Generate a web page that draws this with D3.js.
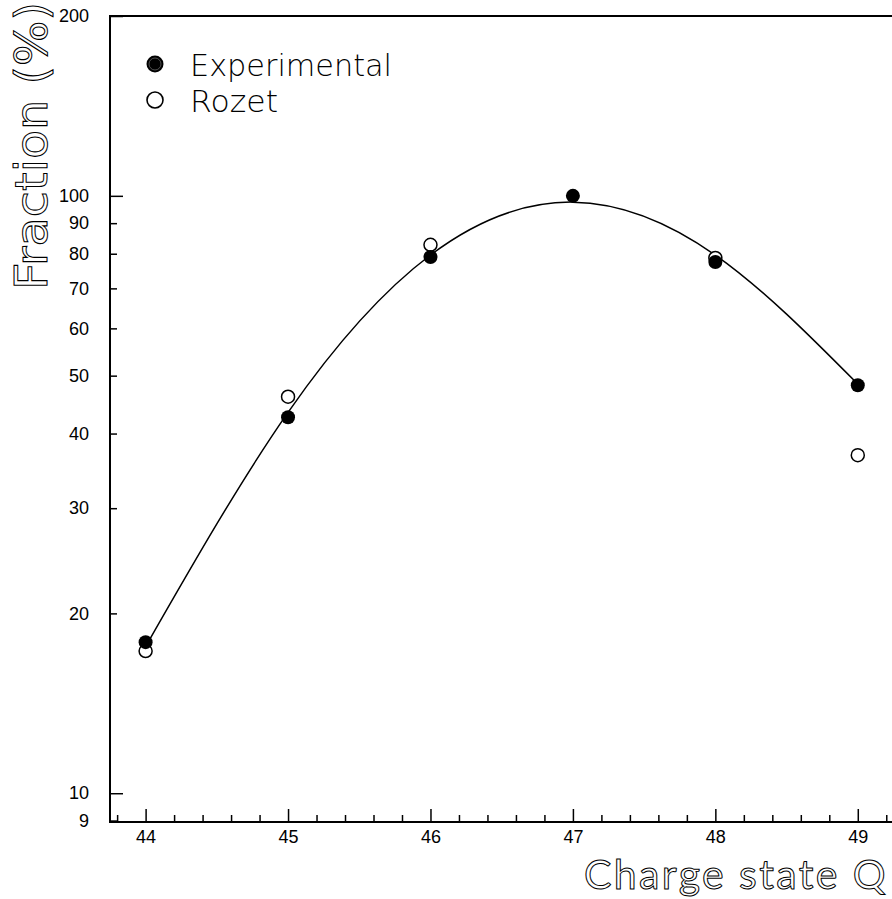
<!DOCTYPE html>
<html>
<head>
<meta charset="utf-8">
<script src="https://cdn.jsdelivr.net/npm/d3@7"></script>
<style>
  body { margin: 0; background: #fff; }
  svg { display: block; }
</style>
</head>
<body>
<div id="chart"></div>
<script>
// values
var charge = [44, 45, 46, 47, 48, 49];
var experimental = [17.9, 42.6, 79.0, 100, 77.5, 48.2];
var rozetCharge = [44, 45, 46, 48, 49];
var rozet = [17.3, 46.1, 82.8, 78.7, 36.8];
// the fitted curve, read at each charge state
var fitCharge = [44, 45, 46, 47, 48, 49];
var fitValues = [17.6, 43.4, 79.6, 97.6, 79.6, 48.4];

var xMajor = [44, 45, 46, 47, 48, 49];
var yMajor = [10, 100];
var yMinor = [9, 20, 30, 40, 50, 60, 70, 80, 90];

var width = 892, height = 899;

var svg = d3.select("#chart")
  .append("svg")
    .attr("width", width)
    .attr("height", height);

var x = d3.scaleLinear()
  .domain([43.75, 49.5])
  .range([110, 929]);

var y = d3.scaleLog()
  .domain([8.95, 200])
  .range([822, 16]);

var tickFont = "'Liberation Sans', Arial, sans-serif";

// x ticks (pointing inward)
var xMinor = d3.range(219, 248).map(function(d) { return d / 5; })
  .filter(function(d) { return d % 1 !== 0; });

svg.append("g")
    .attr("transform", "translate(0,822)")
    .call(d3.axisBottom(x).tickValues(xMinor).tickSize(-7).tickFormat(""))
    .call(function(g) { g.select(".domain").remove(); });

svg.append("g")
    .attr("transform", "translate(0,822)")
    .call(d3.axisBottom(x).tickValues(xMajor).tickSize(-13).tickPadding(8).tickFormat(d3.format("d")))
    .call(function(g) { g.select(".domain").remove(); })
    .selectAll("text")
      .style("font-family", tickFont)
      .style("font-size", "18px")
      .attr("fill", "#000");

// y ticks
svg.append("g")
    .attr("transform", "translate(110,0)")
    .call(d3.axisLeft(y).tickValues(yMinor).tickSize(-7).tickPadding(21).tickFormat(d3.format("d")))
    .call(function(g) { g.select(".domain").remove(); })
    .selectAll("text")
      .style("font-family", tickFont)
      .style("font-size", "18px")
      .attr("fill", "#000");

svg.append("g")
    .attr("transform", "translate(110,0)")
    .call(d3.axisLeft(y).tickValues(yMajor.concat([200])).tickSize(-13).tickPadding(21).tickFormat(d3.format("d")))
    .call(function(g) { g.select(".domain").remove(); })
    .selectAll("text")
      .style("font-family", tickFont)
      .style("font-size", "18px")
      .attr("fill", "#000");

svg.selectAll(".tick line").attr("stroke", "#000").attr("stroke-width", 1.5);

// frame
svg.append("rect")
    .attr("x", x.range()[0])
    .attr("y", y.range()[1])
    .attr("width", x.range()[1] - x.range()[0])
    .attr("height", y.range()[0] - y.range()[1])
    .attr("fill", "none")
    .attr("stroke", "#000")
    .attr("stroke-width", 2);

// fitted curve
var line = d3.line()
  .x(function(d, i) { return x(fitCharge[i]); })
  .y(function(d) { return y(d); })
  .curve(d3.curveNatural);

svg.append("path")
    .datum(fitValues)
    .attr("d", line)
    .attr("fill", "none")
    .attr("stroke", "#000")
    .attr("stroke-width", 1.5);

// Rozet (open) drawn first, experimental on top
svg.selectAll(".rozet")
    .data(rozet)
    .enter()
    .append("circle")
      .attr("class", "rozet")
      .attr("cx", function(d, i) { return x(rozetCharge[i]); })
      .attr("cy", function(d) { return y(d); })
      .attr("r", 6.5)
      .attr("fill", "#fff")
      .attr("stroke", "#000")
      .attr("stroke-width", 1.5);

svg.selectAll(".exp")
    .data(experimental)
    .enter()
    .append("circle")
      .attr("class", "exp")
      .attr("cx", function(d, i) { return x(charge[i]); })
      .attr("cy", function(d) { return y(d); })
      .attr("r", 7)
      .attr("fill", "#000");

// legend
var legendFont = "'DejaVu Sans', sans-serif";
svg.append("circle")
    .attr("cx", 155).attr("cy", 64).attr("r", 8.5)
    .attr("fill", "#000");
svg.append("circle")
    .attr("cx", 155).attr("cy", 64).attr("r", 6)
    .attr("fill", "none").attr("stroke", "#666").attr("stroke-width", 0.8);
svg.append("circle")
    .attr("cx", 155).attr("cy", 100).attr("r", 8)
    .attr("fill", "none").attr("stroke", "#000").attr("stroke-width", 1.6);

svg.append("text")
    .attr("x", 190).attr("y", 76)
    .attr("textLength", 202).attr("lengthAdjust", "spacingAndGlyphs")
    .style("font-family", legendFont)
    .style("font-size", "30px")
    .style("font-weight", 300)
    .text("Experimental");
svg.append("text")
    .attr("x", 190).attr("y", 112)
    .attr("textLength", 88).attr("lengthAdjust", "spacingAndGlyphs")
    .style("font-family", legendFont)
    .style("font-size", "30px")
    .style("font-weight", 300)
    .text("Rozet");

// axis titles (outlined lettering)
svg.append("text")
    .attr("x", 888).attr("y", 889)
    .attr("text-anchor", "end")
    .style("font-family", "Lato, 'DejaVu Sans', sans-serif")
    .style("font-size", "41px")
    .style("letter-spacing", "2.4px")
    .attr("fill", "#fff")
    .attr("stroke", "#000")
    .attr("stroke-width", 1)
    .text("Charge state Q");

svg.append("text")
    .attr("transform", "translate(47,290) rotate(-90)")
    .attr("textLength", 288).attr("lengthAdjust", "spacingAndGlyphs")
    .style("font-family", legendFont)
    .style("font-size", "44px")
    .attr("fill", "#fff")
    .attr("stroke", "#000")
    .attr("stroke-width", 1)
    .text("Fraction (%)");
</script>
</body>
</html>
